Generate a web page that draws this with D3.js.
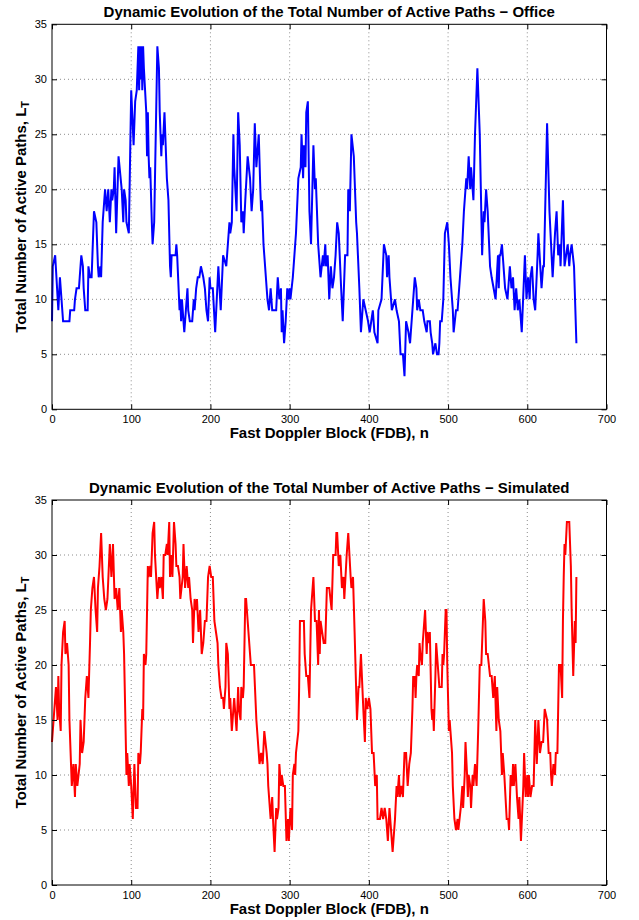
<!DOCTYPE html>
<html>
<head>
<meta charset="utf-8">
<script src="https://cdn.jsdelivr.net/npm/d3@7"></script>
<style>
  body { margin: 0; background: #fff; }
  svg { display: block; }
</style>
</head>
<body>
<svg id="fig" width="639" height="920"></svg>
<script>
// Axis ticks shared by both panels
const xTicks = [0, 100, 200, 300, 400, 500, 600, 700];
const yTicks = [0, 5, 10, 15, 20, 25, 30, 35];

const titles = [
  "Dynamic Evolution of the Total Number of Active Paths \u2212 Office",
  "Dynamic Evolution of the Total Number of Active Paths \u2212 Simulated"
];
const xLabel = "Fast Doppler Block (FDB), n";
const yLabelMain = "Total Number of Active Paths, L";
const yLabelSub = "T";

// Measured L_T per fast Doppler block: [n, L_T]
const officeSamples = [
  [0,8],[1,13],[4,14],[8,9],[10,12],[12,10],[14,8],[22,8],[23,9],[28,9],[29,10],[31,11],[34,11],[35,12],
  [37,14],[39,13],[40,11],[42,9],[45,9],[46,13],[48,12],[50,12],[53,18],[56,17],[58,13],[59,12],[61,13],
  [62,12],[64,17],[67,20],[69,18],[71,20],[73,17],[75,20],[76,19],[78,20],[79,22],[81,16],[84,23],[88,20],
  [90,17],[91,20],[93,19],[94,17],[97,16],[100,29],[103,24],[105,28],[107,29],[109,33],[110,29],[111,33],
  [112,30],[113,33],[114,29],[115,33],[116,31],[119,27],[120,23],[121,27],[122,23],[123,21],[124,22],
  [126,17],[127,15],[129,17],[133,33],[135,31],[136,27],[138,23],[139,25],[140,24],[142,27],[143,25],
  [145,21],[147,19],[149,13],[150,12],[151,14],[156,14],[157,15],[158,14],[161,9],[162,10],[163,8],
  [164,10],[167,7],[171,11],[172,9],[174,8],[177,8],[179,10],[180,9],[182,11],[184,12],[186,12],[188,13],
  [191,12],[193,11],[195,9],[197,8],[199,12],[200,11],[203,11],[206,7],[210,13],[213,9],[216,14],[220,13],
  [224,17],[225,16],[227,17],[229,25],[230,22],[233,18],[235,27],[237,24],[239,17],[241,18],[242,16],
  [244,19],[247,23],[250,21],[252,18],[254,20],[256,26],[258,22],[261,25],[263,20],[264,18],[265,19],
  [267,15],[268,14],[272,10],[274,9],[276,11],[278,9],[283,9],[285,12],[287,10],[289,11],[290,7],[291,9],
  [293,6],[295,8],[297,11],[299,10],[300,11],[301,10],[304,12],[308,16],[311,21],[314,22],[315,25],
  [317,21],[318,24],[320,22],[321,27],[323,28],[325,18],[327,15],[330,24],[332,20],[333,21],[334,19],
  [336,15],[339,12],[342,14],[343,13],[345,15],[346,13],[348,14],[350,10],[352,13],[354,11],[356,12],
  [358,14],[360,17],[362,16],[365,11],[367,8],[370,14],[373,14],[374,20],[376,18],[378,25],[381,23],
  [384,17],[385,16],[388,11],[390,7],[393,10],[396,9],[399,8],[401,7],[405,9],[407,7],[411,6],[412,9],
  [416,10],[419,15],[422,14],[423,12],[425,14],[426,12],[429,9],[433,10],[435,9],[438,8],[440,5],[443,5],
  [445,3],[447,8],[450,7],[452,6],[453,7],[455,9],[456,10],[458,12],[460,11],[461,9],[463,10],[465,9],
  [468,9],[470,8],[473,7],[474,8],[477,8],[478,7],[480,6],[481,5],[484,6],[486,5],[488,5],[489,6],[490,8],
  [492,8],[494,10],[496,16],[499,17],[501,15],[503,12],[506,9],[507,7],[510,9],[512,9],[515,12],[518,15],
  [520,18],[523,21],[524,20],[526,23],[528,20],[529,22],[532,19],[534,25],[537,31],[540,25],[543,14],
  [545,18],[546,17],[548,20],[550,18],[553,13],[555,12],[560,10],[563,14],[564,11],[565,14],[566,14],
  [568,15],[569,14],[572,11],[575,10],[578,13],[580,11],[582,12],[584,9],[586,11],[588,9],[590,10],
  [592,8],[593,7],[597,14],[599,10],[601,12],[603,10],[604,12],[606,13],[608,10],[610,9],[613,14],
  [614,16],[618,11],[620,13],[621,13],[625,26],[628,18],[630,15],[632,12],[635,16],[637,18],[639,14],
  [641,15],[642,13],[645,19],[647,13],[649,14],[651,15],[653,13],[654,14],[656,15],[659,13],[662,6]
];

// Simulated L_T per fast Doppler block: [n, L_T]
const simulatedSamples = [
  [0,13],[2,15],[5,18],[7,15],[8,19],[9,16],[11,14],[12,20],[14,23],[16,24],[17,21],[19,22],[21,20],
  [22,15],[24,11],[25,9],[27,11],[29,8],[30,11],[32,9],[35,11],[36,15],[38,12],[40,13],[42,17],[44,19],
  [46,17],[48,22],[49,25],[51,27],[53,28],[55,25],[57,23],[58,27],[60,29],[62,32],[64,28],[66,26],[68,25],
  [70,26],[73,31],[75,28],[77,31],[79,26],[81,27],[83,25],[85,27],[87,23],[88,25],[90,23],[91,21],[94,10],
  [95,12],[97,9],[98,11],[100,9],[102,6],[104,11],[106,7],[108,7],[109,12],[111,11],[112,12],[114,16],
  [115,15],[116,21],[118,20],[119,21],[121,29],[122,28],[124,29],[125,28],[127,32],[129,33],[130,30],
  [133,26],[135,28],[136,27],[138,28],[140,26],[141,30],[143,30],[145,31],[146,30],[148,33],[149,28],
  [151,30],[152,28],[154,33],[156,31],[157,29],[159,29],[161,28],[162,26],[165,28],[166,31],[168,27],
  [170,29],[172,27],[173,28],[175,26],[177,25],[178,22],[180,26],[182,25],[183,26],[185,23],[187,25],
  [189,21],[191,22],[193,24],[195,24],[197,28],[199,29],[201,28],[203,28],[205,24],[207,23],[209,22],
  [210,20],[212,18],[214,17],[216,17],[217,16],[219,18],[220,22],[222,21],[224,16],[225,17],[227,14],
  [230,17],[231,16],[233,14],[235,18],[236,16],[238,15],[239,18],[241,17],[242,18],[244,26],[245,26],
  [248,23],[251,20],[255,20],[258,15],[261,12],[262,11],[264,12],[266,11],[268,14],[271,12],[272,11],
  [273,9],[276,6],[278,8],[279,6],[281,3],[283,7],[284,6],[286,7],[287,11],[289,9],[290,10],[292,9],
  [294,9],[296,4],[298,6],[299,4],[301,7],[303,5],[304,10],[306,11],[307,10],[308,12],[311,14],[312,18],
  [313,24],[318,24],[319,21],[321,19],[323,19],[325,17],[327,25],[330,28],[332,24],[334,24],[336,20],
  [337,25],[338,21],[339,24],[341,23],[343,22],[345,22],[347,27],[350,27],[353,25],[355,30],[358,30],
  [359,32],[360,32],[362,29],[364,30],[366,27],[368,28],[369,26],[372,30],[374,32],[377,28],[378,27],
  [380,28],[382,23],[385,15],[387,18],[388,18],[390,21],[393,16],[395,13],[396,17],[398,16],[400,17],
  [402,16],[404,12],[406,12],[408,9],[410,10],[411,6],[414,6],[416,7],[418,6],[420,7],[422,6],[424,4],
  [426,7],[428,5],[430,3],[433,6],[435,9],[436,8],[438,10],[439,8],[441,9],[443,8],[445,12],[447,12],
  [449,9],[451,11],[453,12],[455,16],[456,19],[457,18],[458,19],[459,17],[460,19],[461,20],[463,19],
  [464,22],[465,21],[467,20],[468,22],[470,24],[471,25],[473,21],[474,23],[476,22],[477,23],[479,16],
  [480,15],[481,16],[482,14],[484,19],[485,22],[487,20],[489,18],[492,18],[493,21],[494,20],[495,21],
  [497,25],[498,25],[499,20],[501,14],[502,15],[503,14],[505,12],[506,9],[508,6],[510,5],[512,6],[513,5],
  [516,7],[518,9],[519,7],[521,10],[522,13],[524,10],[525,8],[526,10],[528,9],[529,7],[531,10],[532,9],
  [534,11],[536,9],[538,14],[540,20],[542,20],[545,26],[547,24],[548,21],[550,21],[553,19],[555,19],
  [557,17],[559,19],[561,14],[562,18],[564,15],[566,14],[568,10],[569,12],[571,10],[574,6],[576,6],
  [577,5],[579,10],[581,9],[582,11],[583,9],[585,11],[587,8],[589,6],[590,8],[592,4],[595,9],[596,12],
  [598,8],[600,10],[601,8],[602,10],[604,8],[606,9],[608,9],[610,15],[612,11],[614,15],[616,12],[618,13],
  [620,13],[622,16],[625,15],[627,12],[629,12],[630,10],[631,9],[633,11],[635,10],[636,12],[638,12],
  [640,20],[642,20],[644,17],[645,24],[646,28],[647,31],[648,30],[650,33],[653,33],[655,29],[656,25],
  [658,19],[660,24],[661,22],[662,28]
];

// Panel layout (pixels) and line colours
const panels = [
  { title: titles[0], data: officeSamples,    color: "#0000ff", top: 24.3, bottom: 409.3 },
  { title: titles[1], data: simulatedSamples, color: "#ff0000", top: 500,  bottom: 885 }
];
const left = 52, right = 606.5;
const FONT = "'Liberation Sans', Arial, Helvetica, sans-serif";

const svg = d3.select("#fig");

panels.forEach(p => {
  const x = d3.scaleLinear().domain([0, 700]).range([left, right]);
  const y = d3.scaleLinear().domain([0, 35]).range([p.bottom, p.top]);
  const g = svg.append("g");

  // dotted grid
  g.append("g").selectAll("line.gx")
    .data(xTicks.slice(1, -1)).join("line")
    .attr("x1", d => x(d)).attr("x2", d => x(d))
    .attr("y1", p.top).attr("y2", p.bottom)
    .attr("stroke", "#8c8c8c").attr("stroke-width", 1)
    .attr("stroke-dasharray", "1,3");
  g.append("g").selectAll("line.gy")
    .data(yTicks.slice(1, -1)).join("line")
    .attr("x1", left).attr("x2", right)
    .attr("y1", d => y(d)).attr("y2", d => y(d))
    .attr("stroke", "#8c8c8c").attr("stroke-width", 1)
    .attr("stroke-dasharray", "1,3");

  // data line
  const line = d3.line().x(d => x(d[0])).y(d => y(d[1]));
  g.append("path")
    .datum(p.data)
    .attr("d", line)
    .attr("fill", "none")
    .attr("stroke", p.color)
    .attr("stroke-width", 2)
    .attr("stroke-linejoin", "miter")
    .attr("stroke-miterlimit", 3);

  // axes with inward ticks on all four sides
  const styleAxis = sel => {
    sel.selectAll("text").attr("font-family", FONT).attr("font-size", 11).attr("fill", "#000");
    sel.selectAll("line").attr("stroke", "#000");
    sel.select(".domain").remove();
  };
  g.append("g").attr("transform", `translate(0,${p.bottom})`)
    .call(d3.axisBottom(x).tickValues(xTicks).tickSizeInner(-5).tickSizeOuter(0).tickPadding(6))
    .call(styleAxis);
  g.append("g").attr("transform", `translate(0,${p.top})`)
    .call(d3.axisTop(x).tickValues(xTicks).tickSizeInner(-5).tickSizeOuter(0).tickFormat(""))
    .call(styleAxis);
  g.append("g").attr("transform", `translate(${left},0)`)
    .call(d3.axisLeft(y).tickValues(yTicks).tickSizeInner(-5).tickSizeOuter(0).tickPadding(5))
    .call(styleAxis);
  g.append("g").attr("transform", `translate(${right},0)`)
    .call(d3.axisRight(y).tickValues(yTicks).tickSizeInner(-5).tickSizeOuter(0).tickFormat(""))
    .call(styleAxis);

  // box
  g.append("rect")
    .attr("x", left).attr("y", p.top)
    .attr("width", right - left).attr("height", p.bottom - p.top)
    .attr("fill", "none").attr("stroke", "#000").attr("stroke-width", 1);

  // title
  g.append("text")
    .attr("x", (left + right) / 2).attr("y", p.top - 7)
    .attr("text-anchor", "middle")
    .attr("font-family", FONT).attr("font-weight", "bold").attr("font-size", 15)
    .text(p.title);

  // x label
  g.append("text")
    .attr("x", (left + right) / 2).attr("y", p.bottom + 29)
    .attr("text-anchor", "middle")
    .attr("font-family", FONT).attr("font-weight", "bold").attr("font-size", 15)
    .text(xLabel);

  // y label with subscript
  const yl = g.append("text")
    .attr("transform", `translate(26,${(p.top + p.bottom) / 2}) rotate(-90)`)
    .attr("text-anchor", "middle")
    .attr("font-family", FONT).attr("font-weight", "bold").attr("font-size", 15);
  yl.append("tspan").text(yLabelMain);
  yl.append("tspan").attr("dy", "0.3em").attr("font-size", 11).text(yLabelSub);
});
</script>
</body>
</html>
